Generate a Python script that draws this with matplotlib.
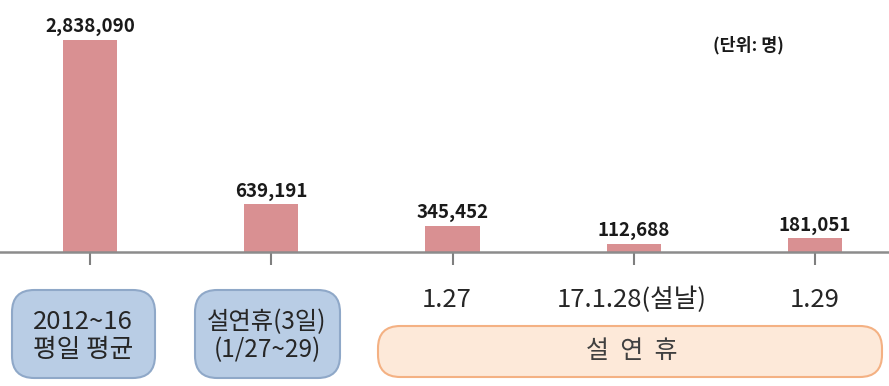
import matplotlib.pyplot as plt
from matplotlib.patches import FancyBboxPatch

plt.rcParams['font.family'] = ['Noto Sans CJK KR', 'DejaVu Sans']

# data
categories = ["2012~16\n평일 평균", "설연휴(3일)\n(1/27~29)", "1.27", "17.1.28(설날)", "1.29"]
values = [2838090, 639191, 345452, 112688, 181051]
value_labels = ["2,838,090", "639,191", "345,452", "112,688", "181,051"]
group_label = "설 연 휴"
unit_label = "(단위: 명)"

BAR_COLOR = "#D99092"
W, H = 889, 386

fig = plt.figure(figsize=(W / 100, H / 100), dpi=100)
ax = fig.add_axes([0, 1 - 252 / H, 1, 252 / H])

x = list(range(len(values)))
ax.bar(x, values, width=0.30, color=BAR_COLOR, zorder=2)
for i, v in enumerate(values):
    ax.text(i, v + 50000, value_labels[i], ha="center", va="bottom",
            fontsize=13.5, fontweight="bold", color="#1a1a1a")

ax.set_xlim(-90 / 181.25, 4 + 74 / 181.25)
ax.set_ylim(0, values[0] * 252 / 212)
for s in ["top", "right", "left"]:
    ax.spines[s].set_visible(False)
ax.spines["bottom"].set_color("#8c8c8c")
ax.spines["bottom"].set_linewidth(1.8)
ax.set_yticks([])
ax.set_xticks(x)
ax.set_xticklabels([])
ax.tick_params(axis="x", length=9, width=1.5, color="#7f7f7f")

# x labels in figure pixels
def fx(px):
    return px / W

def fy(py):
    return 1 - py / H

fig.text(fx(748), fy(45), unit_label, ha="center", va="center",
         fontsize=12.5, fontweight="bold", color="#1a1a1a")

def rbox(x0, y0, x1, y1, fc, ec):
    p = FancyBboxPatch((fx(x0), fy(y1)), fx(x1) - fx(x0), fy(y0) - fy(y1),
                       boxstyle="round,pad=0,rounding_size=0.025",
                       transform=fig.transFigure, fc=fc, ec=ec, lw=1.5,
                       mutation_aspect=W / H)
    fig.patches.append(p)

rbox(12, 290, 155, 378, "#B9CDE5", "#8FA8C8")
rbox(195, 290, 340, 378, "#B9CDE5", "#8FA8C8")
rbox(378, 326, 882, 377, "#FDE9D9", "#F4B183")

centers_px = [83, 267, 447, 632, 815]
fig.text(fx(centers_px[0]), fy(336), categories[0], ha="center", va="center",
         fontsize=18.5, color="#262626", linespacing=1.1)
fig.text(fx(centers_px[1]), fy(336), categories[1], ha="center", va="center",
         fontsize=17.5, color="#262626", linespacing=1.1)
for i in range(2, 5):
    fig.text(fx(centers_px[i]), fy(300), categories[i], ha="center",
             va="center", fontsize=18.5, color="#262626")
fig.text(fx(632), fy(351), group_label.replace(" ", "  "), ha="center",
         va="center", fontsize=18, color="#404040")

fig.savefig("out.png", dpi=100)
